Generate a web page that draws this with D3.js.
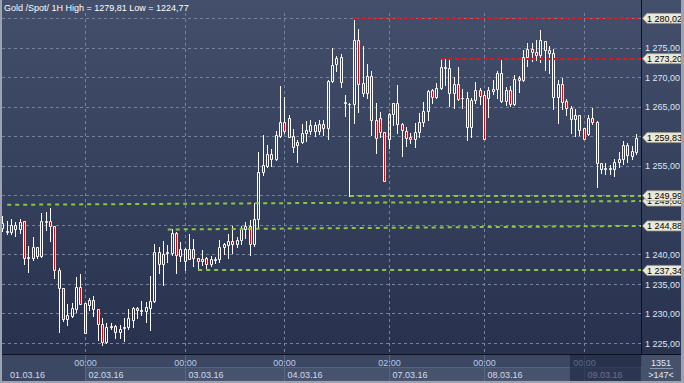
<!DOCTYPE html>
<html><head><meta charset="utf-8">
<script src="https://cdn.jsdelivr.net/npm/d3@7"></script>
<style>html,body{margin:0;padding:0;background:#2f3a56;overflow:hidden}</style>
</head><body>
<svg id="c" width="684" height="383"></svg>
<script>
const title = "Gold /Spot/ 1H High = 1279,81 Low = 1224,77";
const openP = [1244.5,1243.78,1243.78,1245.08,1244.34,1245.76,1239.37,1239.42,1241.29,1239.71,
1245.53,1245.76,1244.91,1237.44,1234.33,1229.19,1229.64,1230.88,1234.56,1231.79,
1231.45,1232.35,1230.83,1228.22,1225.28,1227.71,1227.94,1226.98,1227.54,1227.71,
1228.96,1230.99,1230.43,1230.43,1230.94,1232.18,1240.38,1238.46,1240.27,1240.34,
1243.60,1239.78,1241.01,1239.33,1241.01,1239.44,1238.93,1239.44,1238.48,1239.10,
1239.21,1241.35,1241.69,1242.25,1241.74,1242.47,1244.27,1244.78,1241.74,1246.12,
1253.93,1255.06,1257.08,1256.24,1260.11,1262.47,1263.09,1260.11,1258.54,1259.04,
1260.56,1261.01,1261.91,1261.01,1262.08,1261.52,1269.43,1272.21,1273.48,1265.73,
1265.51,1265.45,1276.40,1268.99,1267.42,1270.22,1262.81,1263.09,1260.84,1259.55,
1263.76,1265.62,1262.13,1261.01,1259.94,1259.55,1260.73,1262.42,1264.33,1267.87,
1266.63,1268.26,1271.57,1271.69,1267.30,1268.82,1266.46,1266.46,1261.69,1266.18,
1267.81,1266.97,1266.46,1267.74,1268.08,1270.85,1266.05,1267.97,1265.60,1270.00,
1269.55,1273.50,1274.91,1274.34,1273.89,1276.20,1274.74,1274.23,1266.73,1268.87,
1265.99,1264.92,1263.01,1263.74,1261.37,1260.52,1263.23,1262.39,1255.45,1254.49,
1254.49,1254.49,1255.62,1256.13,1258.66,1256.75,1257.42];
const highP = [1246.61,1245.76,1246.10,1245.53,1246.10,1245.76,1241.52,1243.04,1241.29,1247.06,
1247.17,1247.91,1244.91,1237.73,1234.33,1231.67,1231.90,1236.20,1236.71,1231.79,
1232.64,1233.03,1230.83,1229.36,1228.39,1228.39,1228.11,1228.11,1229.36,1230.83,
1231.22,1231.22,1232.18,1231.96,1236.43,1241.86,1241.23,1242.25,1241.69,1244.27,
1243.82,1242.13,1241.18,1243.43,1242.58,1239.44,1240.73,1239.55,1239.78,1239.66,
1242.42,1242.02,1243.43,1244.83,1243.03,1244.83,1245.51,1245.96,1248.76,1257.42,
1260.22,1258.54,1257.87,1260.96,1268.54,1266.69,1263.65,1261.24,1259.38,1262.08,
1262.64,1262.75,1262.42,1262.75,1262.75,1269.66,1274.92,1273.61,1274.04,1267.02,
1265.73,1279.81,1278.26,1275.28,1272.25,1271.07,1265.62,1264.21,1260.84,1263.93,
1265.62,1268.71,1262.25,1261.57,1260.56,1262.25,1263.93,1265.90,1267.87,1267.98,
1268.99,1273.20,1273.20,1272.92,1270.11,1271.80,1268.03,1267.58,1266.46,1269.27,
1268.31,1267.75,1268.43,1269.66,1271.13,1273.05,1268.42,1268.53,1270.39,1270.23,
1274.74,1275.92,1275.87,1276.32,1278.01,1276.20,1275.30,1274.79,1269.55,1270.00,
1266.33,1265.15,1264.59,1263.74,1261.37,1263.63,1264.92,1262.61,1255.45,1255.45,
1255.11,1256.13,1257.42,1259.28,1258.95,1258.38,1260.52];
const lowP = [1243.95,1243.55,1243.50,1243.10,1243.67,1238.46,1236.99,1239.14,1239.42,1239.54,
1244.12,1242.25,1236.14,1226.98,1228.79,1228.11,1229.47,1230.37,1231.73,1226.81,
1230.66,1229.69,1225.51,1224.77,1225.00,1227.38,1225.96,1225.96,1225.45,1227.38,
1227.83,1229.36,1229.81,1228.68,1227.26,1232.07,1236.88,1234.79,1238.69,1239.89,
1236.97,1238.93,1237.42,1239.21,1238.09,1237.42,1238.20,1237.81,1238.09,1238.54,
1238.76,1240.06,1239.38,1240.34,1241.29,1241.74,1242.87,1239.89,1241.46,1244.55,
1253.54,1254.83,1255.06,1256.07,1259.89,1260.56,1259.89,1257.42,1255.73,1258.88,
1259.27,1260.51,1260.11,1260.51,1260.34,1259.66,1269.20,1271.07,1268.43,1263.48,
1249.99,1262.36,1264.21,1266.85,1266.46,1260.28,1257.30,1260.00,1252.42,1258.03,
1261.97,1260.56,1256.63,1258.48,1258.88,1258.31,1260.00,1261.80,1262.81,1265.73,
1266.46,1268.09,1268.71,1265.17,1264.78,1266.18,1264.89,1259.44,1260.00,1265.73,
1265.51,1259.55,1263.37,1267.29,1266.45,1265.88,1265.43,1265.15,1265.32,1267.57,
1269.38,1271.97,1272.82,1272.93,1272.65,1271.35,1270.79,1264.75,1262.33,1264.75,
1263.74,1260.64,1260.13,1260.24,1259.51,1260.24,1262.05,1251.50,1253.87,1253.64,
1253.64,1253.36,1254.88,1255.34,1255.73,1256.13,1257.03];
const closeP = [1245.3,1244.06,1245.08,1244.34,1245.53,1239.42,1239.59,1241.35,1239.71,1245.64,
1245.76,1244.91,1237.39,1234.28,1229.19,1229.75,1231.05,1234.56,1231.73,1226.81,
1232.35,1230.77,1228.22,1225.28,1227.83,1228.00,1226.98,1227.43,1227.83,1229.30,
1231.05,1230.60,1230.66,1231.11,1232.18,1240.38,1238.46,1240.16,1240.44,1243.60,
1239.89,1241.01,1238.93,1241.01,1239.44,1238.99,1239.33,1238.48,1239.33,1239.33,
1241.35,1241.74,1242.25,1241.85,1242.53,1244.55,1244.78,1241.85,1246.07,1253.99,
1255.17,1257.02,1256.29,1260.22,1262.47,1261.01,1260.00,1258.31,1259.04,1260.56,
1261.07,1261.91,1261.01,1262.08,1261.40,1269.49,1272.09,1273.33,1269.27,1265.80,
1265.60,1276.40,1268.82,1267.42,1270.22,1262.81,1259.72,1260.84,1252.42,1263.76,
1265.62,1262.08,1261.12,1259.83,1259.55,1260.73,1262.42,1264.33,1267.70,1266.63,
1268.26,1271.80,1271.80,1267.30,1268.82,1266.40,1266.50,1261.69,1266.18,1267.87,
1266.91,1259.55,1267.87,1268.14,1270.79,1265.99,1267.86,1265.60,1269.83,1269.66,
1273.50,1274.91,1274.34,1273.89,1276.32,1274.74,1274.23,1266.73,1268.98,1265.88,
1264.92,1263.01,1263.74,1261.20,1259.51,1263.23,1262.39,1255.45,1254.49,1254.72,
1254.72,1255.62,1256.13,1258.66,1256.86,1257.54,1259.83];

const dayLabels = ["01.03.16","02.03.16","03.03.16","04.03.16","07.03.16","08.03.16","09.03.16"];
const dayStart = [0,19,42,65,89,111,134];
const timeLabels = ["","00:00","00:00","00:00","02:00","00:00","00:00"];
const yTicks = [1225,1230,1235,1240,1245,1250,1255,1260,1265,1270,1275,1280];

const hLevelPrices = [1280.02,1273.20,1249.99,1237.34];
const hLevelStart = [81,101,80,45];
const hLevelKind = ["red","red","green","green"];
const trendStartIdx = [1,38];
const trendStartPrice = [1248.45,1244.27];
const trendEndPrice = [1249.08,1244.88];
const lastPrice = 1259.83;
const barsTotal = "1351";
const barsVisible = ">147<";

const W = 684, H = 383;
const plotL = 2, plotR = 641, plotB = 354;
const svg = d3.select("#c");
const fmt = d3.formatLocale({decimal:",",thousands:" ",grouping:[3],currency:["",""]}).format(",.2f");
const FONT = "'Liberation Sans', Arial, sans-serif";

const defs = svg.append("defs");
const grad = defs.append("linearGradient").attr("id","bg").attr("x1",0).attr("y1",0).attr("x2",0).attr("y2",1);
grad.append("stop").attr("offset","0%").attr("stop-color","#434f6b");
grad.append("stop").attr("offset","100%").attr("stop-color","#28324f");
defs.append("clipPath").attr("id","clip").append("rect")
  .attr("x",plotL).attr("y",0).attr("width",plotR-plotL).attr("height",plotB);

const x = d3.scaleLinear().domain([19,134]).range([85.3,584.3]);
const y = d3.scaleLinear().domain([1225,1275]).range([343.3,48]);
const px = v => Math.floor(v) + 0.5;

// backgrounds
svg.append("rect").attr("x",0).attr("y",0).attr("width",W).attr("height",plotB).attr("fill","url(#bg)");
svg.append("rect").attr("x",0).attr("y",plotB).attr("width",W).attr("height",H-plotB).attr("fill","#3c4763");

const plot = svg.append("g").attr("clip-path","url(#clip)");

// grid
plot.selectAll("line.hg").data(yTicks).join("line")
  .attr("x1",plotL).attr("x2",plotR).attr("y1",d=>px(y(d))).attr("y2",d=>px(y(d)))
  .attr("stroke","#75839e").attr("stroke-width",1).attr("stroke-dasharray","3,3");
plot.selectAll("line.vg").data(dayStart.slice(1)).join("line")
  .attr("x1",d=>px(x(d))).attr("x2",d=>px(x(d))).attr("y1",13).attr("y2",plotB)
  .attr("stroke","#75839e").attr("stroke-width",1).attr("stroke-dasharray","3,3");

// candles
const idx = d3.range(openP.length);
const cg = plot.selectAll("g.candle").data(idx).join("g").attr("class","candle");
cg.each(function(i){
  const g = d3.select(this);
  const fx = Math.floor(x(i));
  const o = openP[i], c = closeP[i];
  const yT = Math.round(y(Math.max(o,c))) + 0.5;
  const yB = Math.round(y(Math.min(o,c))) + 0.5;
  const yH = Math.round(y(highP[i])), yL = Math.round(y(lowP[i])) + 1;
  g.append("path")
    .attr("d",`M${fx+0.5},${yH}V${yT}M${fx+0.5},${yB}V${yL}`)
    .attr("stroke","#ffffff").attr("stroke-width",1).attr("fill","none");
  g.append("path")
    .attr("d",`M${fx-0.5},${yT}H${fx+1.5}V${yB}H${fx-0.5}Z`)
    .attr("stroke","#ffffff").attr("stroke-width",1)
    .attr("fill", c < o ? "#e60000" : "none");
});

// level lines
const levelColor = k => k === "red" ? "#e8141a" : "#8cc63f";
plot.selectAll("line.lvl").data(hLevelPrices).join("line")
  .attr("x1",(d,i)=>x(hLevelStart[i])).attr("x2",plotR)
  .attr("y1",d=>Math.round(y(d))).attr("y2",d=>Math.round(y(d)))
  .attr("stroke",(d,i)=>levelColor(hLevelKind[i])).attr("stroke-width",2)
  .attr("stroke-dasharray",(d,i)=>hLevelKind[i]==="red"?"4,3":"4,4");
plot.selectAll("line.tr").data(trendStartIdx).join("line")
  .attr("x1",d=>x(d)).attr("x2",plotR)
  .attr("y1",(d,i)=>y(trendStartPrice[i])).attr("y2",(d,i)=>y(trendEndPrice[i]))
  .attr("stroke","#8cc63f").attr("stroke-width",2).attr("stroke-dasharray","4,4");

// right axis
svg.append("line").attr("x1",plotR+0.5).attr("x2",plotR+0.5).attr("y1",0).attr("y2",plotB)
  .attr("stroke","#0d1220").attr("stroke-width",1);

const tagOrder = trendEndPrice.concat(hLevelPrices.concat([lastPrice]));
// tick labels hidden behind price tags are not drawn
const visibleTicks = yTicks.filter(t => tagOrder.every(p => Math.abs(y(t) - y(p)) > 8));
svg.selectAll("text.yt").data(visibleTicks).join("text")
  .attr("x",645).attr("y",d=>y(d)+3.3)
  .attr("font-family",FONT).attr("font-size","9px").attr("fill","#dbe6f7")
  .text(d=>fmt(d));

// tags (trend tags first so the level tags sit on top)
const tg = svg.selectAll("g.tag").data(tagOrder).join("g").attr("class","tag");
tg.append("path")
  .attr("d",d=>{const yy=y(d);return `M642.5,${yy}L647,${yy-5}H682V${yy+5}H647Z`;})
  .attr("fill","#ebe9da").attr("stroke","#9a988b").attr("stroke-width",0.8);
tg.append("text").attr("x",647).attr("y",d=>y(d)+3.3)
  .attr("font-family",FONT).attr("font-size","9px").attr("fill","#000")
  .text(d=>fmt(d));

// title
svg.append("text").attr("x",4).attr("y",11)
  .attr("font-family",FONT).attr("font-size","9px").attr("fill","#ffffff")
  .text(title);

// bottom strip
svg.append("line").attr("x1",0).attr("x2",W).attr("y1",plotB+0.5).attr("y2",plotB+0.5)
  .attr("stroke","#0d1220");
const gx = dayStart.map(d=>px(x(d)));
const boxEnd = gx.slice(1).concat([plotR]);
svg.selectAll("rect.db").data(dayStart.slice(1)).join("rect")
  .attr("x",(d,i)=>gx[i+1]).attr("y",367.5)
  .attr("width",(d,i)=>boxEnd[i+1]-gx[i+1]).attr("height",13.5)
  .attr("fill","#47526d").attr("stroke","#56627e").attr("stroke-width",1);
svg.selectAll("line.bt").data(dayStart.slice(1)).join("line")
  .attr("x1",(d,i)=>gx[i+1]).attr("x2",(d,i)=>gx[i+1]).attr("y1",plotB+1).attr("y2",381)
  .attr("stroke","#5b6782");
svg.selectAll("text.tl").data(timeLabels).join("text")
  .attr("x",(d,i)=>gx[i]).attr("y",366).attr("text-anchor","middle")
  .attr("font-family",FONT).attr("font-size","9px").attr("fill","#b9cbe8")
  .text(d=>d);
svg.selectAll("text.dl").data(dayLabels).join("text")
  .attr("x",(d,i)=> i===0 ? 10 : gx[i]+3).attr("y",377.5)
  .attr("font-family",FONT).attr("font-size","9px").attr("fill","#cfdbef")
  .text(d=>d);
// dim overlay over the last day label
svg.append("rect").attr("x",570).attr("y",plotB+1).attr("width",plotR-570).attr("height",381-plotB-1)
  .attr("fill","#1c2540").attr("fill-opacity",0.6);

// bottom-right box
svg.append("rect").attr("x",642).attr("y",plotB+1).attr("width",39).attr("height",381-plotB-1)
  .attr("fill","#46516c");
svg.append("text").attr("x",661).attr("y",365.5).attr("text-anchor","middle")
  .attr("font-family",FONT).attr("font-size","9px").attr("fill","#e2e9f5").text(barsTotal);
svg.append("line").attr("x1",650).attr("x2",673).attr("y1",368.5).attr("y2",368.5)
  .attr("stroke","#8d97aa");
svg.append("text").attr("x",661).attr("y",377.5).attr("text-anchor","middle")
  .attr("font-family",FONT).attr("font-size","9px").attr("fill","#e2e9f5").text(barsVisible);

// frame
svg.append("rect").attr("x",0).attr("y",0).attr("width",2).attr("height",H).attr("fill","#9ca3ae");
svg.append("rect").attr("x",681).attr("y",0).attr("width",3).attr("height",H).attr("fill","#9ca3ae");
svg.append("rect").attr("x",0).attr("y",381).attr("width",W).attr("height",2).attr("fill","#9ca3ae");
</script>
</body></html>
